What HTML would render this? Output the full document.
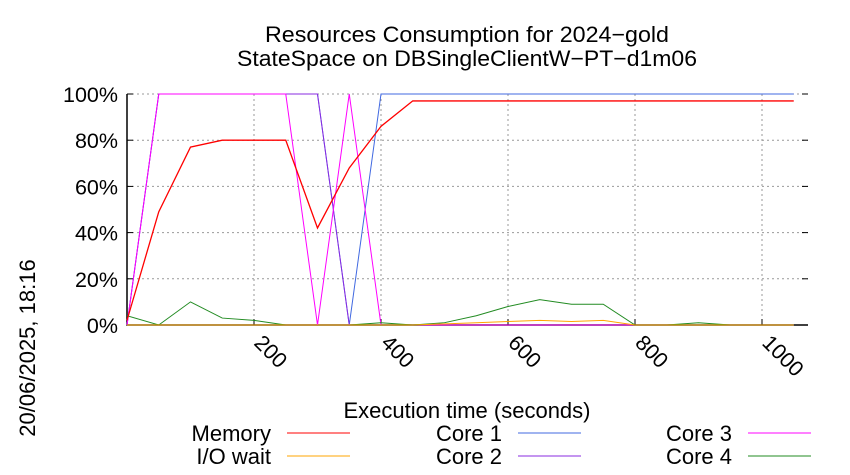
<!DOCTYPE html>
<html><head><meta charset="utf-8"><style>
body{margin:0;background:#fff}
svg{display:block;font-family:"Liberation Sans",sans-serif}
</style></head><body>
<svg id="chart" width="850" height="475" viewBox="0 0 850 475">
<g id="grid"></g>
<g id="axes"></g>
<g id="series"></g>
<text x="467" y="42" text-anchor="middle" font-size="22" textLength="404" lengthAdjust="spacingAndGlyphs">Resources Consumption for 2024−gold</text>
<text x="467" y="66" text-anchor="middle" font-size="22" textLength="460" lengthAdjust="spacingAndGlyphs">StateSpace on DBSingleClientW−PT−d1m06</text>
<text x="467" y="418" text-anchor="middle" font-size="22">Execution time (seconds)</text>
<text transform="translate(35,348) rotate(-90)" text-anchor="middle" font-size="22">20/06/2025, 18:16</text>
<g id="legend"></g>
</svg>
<script>
const times=[0,50,100,150,200,250,300,350,400,450,500,550,600,650,700,750,800,850,900,950,1000,1050];
const memory=[2,49,77,80,80,80,42,68,86,97,97,97,97,97,97,97,97,97,97,97,97,97];
const ioWait=[0,0,0,0,0,0,0,0,0,0,0.5,1,1.5,2,1.5,2,0,0,0,0,0,0];
const core1=[0,100,100,100,100,100,100,0,100,100,100,100,100,100,100,100,100,100,100,100,100,100];
const core2=[0,100,100,100,100,100,100,0,0,0,0,0,0,0,0,0,0,0,0,0,0,0];
const core3=[0,100,100,100,100,100,0,100,0,0,0,0,0,0,0,0,0,0,0,0,0,0];
const core4=[4,0,10,3,2,0,0,0,1,0,1,4,8,11,9,9,0,0,1,0,0,0];
const xTicks=[200,400,600,800,1000];
const yTicks=[0,20,40,60,80,100];
const X0=127,X1=808,Y0=325,Y1=94;
const xs=t=>X0+t*(762-127)/1000;
const ys=v=>Y0-(v/100)*(Y0-Y1);
const NS="http://www.w3.org/2000/svg";
function mk(tag,parent,attrs){const e=document.createElementNS(NS,tag);for(const k in attrs)e.setAttribute(k,attrs[k]);parent.appendChild(e);return e;}
const grid=document.getElementById('grid'),axes=document.getElementById('axes'),ser=document.getElementById('series'),leg=document.getElementById('legend');
yTicks.forEach(v=>{
 if(v>0){const l=mk('line',grid,{x1:X0,x2:X1,y1:ys(v),y2:ys(v),stroke:'#999','stroke-dasharray':'2,3','stroke-width':1});
 
 }
 const tk=mk('line',axes,{x1:X0,x2:X0+6,y1:ys(v),y2:ys(v),stroke:'#000'});
 
 
 const tk2=mk('line',axes,{x1:X1-6,x2:X1,y1:ys(v),y2:ys(v),stroke:'#000'});
 
 
 const t=mk('text',axes,{x:118,y:ys(v)+8,'text-anchor':'end','font-size':21.5});
 t.textContent=v+'%';
 
 
});
xTicks.forEach(v=>{
 const l=mk('line',grid,{x1:xs(v),x2:xs(v),y1:Y1,y2:Y0,stroke:'#999','stroke-dasharray':'2,3','stroke-width':1});
 
 
 const tk=mk('line',axes,{x1:xs(v),x2:xs(v),y1:Y0,y2:Y0-6,stroke:'#000'});
 
 
 const t=mk('text',axes,{transform:`translate(${xs(v)-1},${Y0+19}) rotate(45)`,'font-size':21.5});
 t.textContent=v;
 
 
});
const ax=mk('polyline',axes,{points:`${X0},${Y1} ${X0},${Y0} ${X1},${Y0}`,fill:'none',stroke:'#000','stroke-width':1.5});


const list=[['Memory',memory,'#ff0000'],['I/O wait',ioWait,'#ffa500'],['Core 1',core1,'#4169e1'],['Core 2',core2,'#8a2be2'],['Core 3',core3,'#ff00ff'],['Core 4',core4,'#228b22']];
const order=[2,3,4,5,1,0];
order.forEach(i=>{const [n,d,c]=list[i];
 const p=mk('polyline',ser,{points:d.map((v,j)=>xs(times[j])+','+ys(v)).join(' '),fill:'none',stroke:c,'stroke-width':i==0?1.3:1});
 
 
});
const lx=[[271,287],[502,518],[732,748]];
list.forEach(([n,d,c],i)=>{const col=Math.floor(i/2),row=i%2,y=433+row*23;
 const t=mk('text',leg,{x:lx[col][0],y:y+8,'text-anchor':'end','font-size':22});
 t.textContent=n;
 
 
 const l=mk('line',leg,{x1:lx[col][1],x2:lx[col][1]+63,y1:y,y2:y,stroke:c,'stroke-width':1});
 
 
});
</script>
</body></html>
